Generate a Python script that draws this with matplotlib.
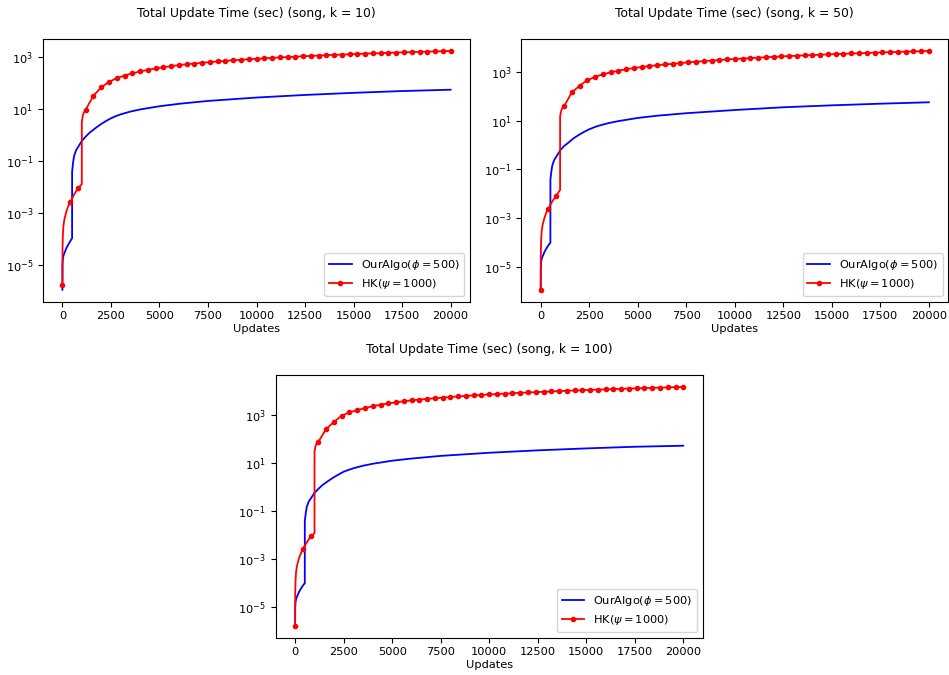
import numpy as np
import matplotlib.pyplot as plt
from matplotlib.ticker import NullFormatter

# update counts where HK markers are drawn (every 400 updates)
hk_x = np.arange(0, 20001, 400)

# extra HK points between markers (start-up curve and the jump at 1000)
hk_x_extra = [5, 20, 50, 100, 200, 300, 600, 999, 1000, 1050, 1100]

# ---- k = 10 ----
hk10 = [1.7e-6, 2.5e-3, 8.7e-3, 9.2, 32, 66, 108, 150, 190, 230, 272, 314, 355,
        396, 436, 476, 514, 550, 586, 622, 658, 694, 730, 765, 800, 835, 870,
        905, 940, 975, 1010, 1044, 1078, 1112, 1146, 1180, 1214, 1248, 1282,
        1315, 1348, 1381, 1414, 1447, 1480, 1512, 1544, 1576, 1608, 1640, 1672]
hk10_extra = [3e-5, 1.2e-4, 3e-4, 5.5e-4, 1.1e-3, 1.8e-3, 5e-3, 1.26e-2, 3.0, 5.5, 7.2]

# ---- k = 50 ----
hk50 = [1.2e-6, 2.5e-3, 8.5e-3, 38, 141, 265, 450, 610, 780, 940, 1100, 1250, 1410,
        1550, 1700, 1830, 1970, 2100, 2250, 2400, 2550, 2700, 2850, 3000, 3150,
        3300, 3450, 3600, 3750, 3900, 4050, 4200, 4350, 4500, 4650, 4800, 4950,
        5100, 5250, 5400, 5550, 5700, 5850, 6000, 6150, 6300, 6450, 6600, 6750,
        6900, 7050]
hk50_extra = [3e-5, 1.2e-4, 3e-4, 5.5e-4, 1.1e-3, 1.8e-3, 5e-3, 1.45e-2, 15, 24, 31]

# ---- k = 100 ----
hk100 = [1.7e-6, 2.7e-3, 8.9e-3, 78, 263, 520, 940, 1290, 1610, 1950, 2360, 2680,
         3070, 3400, 3750, 4080, 4400, 4720, 5040, 5350, 5660, 5970, 6280, 6590,
         6900, 7200, 7505, 7810, 8115, 8420, 8725, 9030, 9335, 9640, 9945, 10250,
         10555, 10860, 11165, 11470, 11775, 12080, 12385, 12690, 12995, 13300,
         13605, 13910, 14215, 14520, 14825]
hk100_extra = [3e-5, 1.2e-4, 3e-4, 5.5e-4, 1.1e-3, 1.8e-3, 5e-3, 1.2e-2, 30, 50, 63]

# OurAlgo (same sample positions for all k)
our_x = [0, 5, 20, 50, 100, 200, 300, 400, 499, 500, 550, 600, 700, 800, 1000,
         1200, 1400, 1700, 2000, 2250, 2500, 2750, 3000, 3500, 4000, 5000, 6000,
         7500, 10000, 12500, 15000, 17500, 20000]
our10 = [1.1e-6, 1e-5, 1.6e-5, 2.2e-5, 2.8e-5, 4.3e-5, 6e-5, 8e-5, 1.05e-4, 0.039,
         0.085, 0.15, 0.25, 0.33, 0.58, 0.85, 1.2, 1.8, 2.6, 3.4, 4.3, 5.2, 6.1,
         7.8, 9.4, 12.5, 15.5, 20, 27, 34, 41, 48, 54]
our50 = [1.2e-6, 1e-5, 1.6e-5, 2.2e-5, 2.8e-5, 4.3e-5, 6e-5, 8e-5, 1.0e-4, 0.039,
         0.085, 0.15, 0.25, 0.33, 0.6, 0.9, 1.2, 1.9, 2.7, 3.5, 4.4, 5.3, 6.2,
         7.9, 9.5, 12.8, 15.8, 20, 27, 35, 42, 49, 56]
our100 = [1.7e-6, 1e-5, 1.6e-5, 2.2e-5, 2.8e-5, 4.3e-5, 6e-5, 8e-5, 1.0e-4, 0.039,
          0.085, 0.15, 0.25, 0.33, 0.58, 0.85, 1.2, 1.8, 2.6, 3.4, 4.4, 5.2, 6.1,
          7.8, 9.4, 12.6, 15.5, 20, 27, 34, 41, 48, 53]

panels = [
    (10, our10, hk10, hk10_extra, [43, 39]),
    (50, our50, hk50, hk50_extra, [521.3, 39]),
    (100, our100, hk100, hk100_extra, [275.7, 375]),
]

plt.rcParams['font.size'] = 8.2
plt.rcParams['axes.linewidth'] = 0.8

W, H = 949, 675
fig = plt.figure(figsize=(W / 100, H / 100), dpi=100)

for k, our, hk, hk_extra, (left, top) in panels:
    ax = fig.add_axes([left / W, 1 - (top + 262.7) / H, 427 / W, 262.7 / H])

    # merge marker points and extra points, remember where the markers are
    xs = list(hk_x) + hk_x_extra
    ys = list(hk) + hk_extra
    order = np.argsort(xs, kind='stable')
    xs = np.array(xs)[order]
    ys = np.array(ys)[order]
    mark_idx = [i for i, o in enumerate(order) if o < len(hk_x)]

    ax.plot(our_x, our, color='blue', lw=1.3, label=r'OurAlgo($\phi = 500$)')
    ax.plot(xs, ys, color='red', lw=1.3, marker='o', markersize=3,
            markevery=mark_idx, label=r'HK($\psi = 1000$)')
    ax.set_yscale('log')
    ax.yaxis.set_minor_formatter(NullFormatter())
    ax.set_title(f'Total Update Time (sec) (song, k = {k})', fontsize=8.9, pad=16)
    ax.set_xlabel('Updates', labelpad=2)
    ax.legend(loc='lower right')

fig.savefig('out.png', dpi=100)
